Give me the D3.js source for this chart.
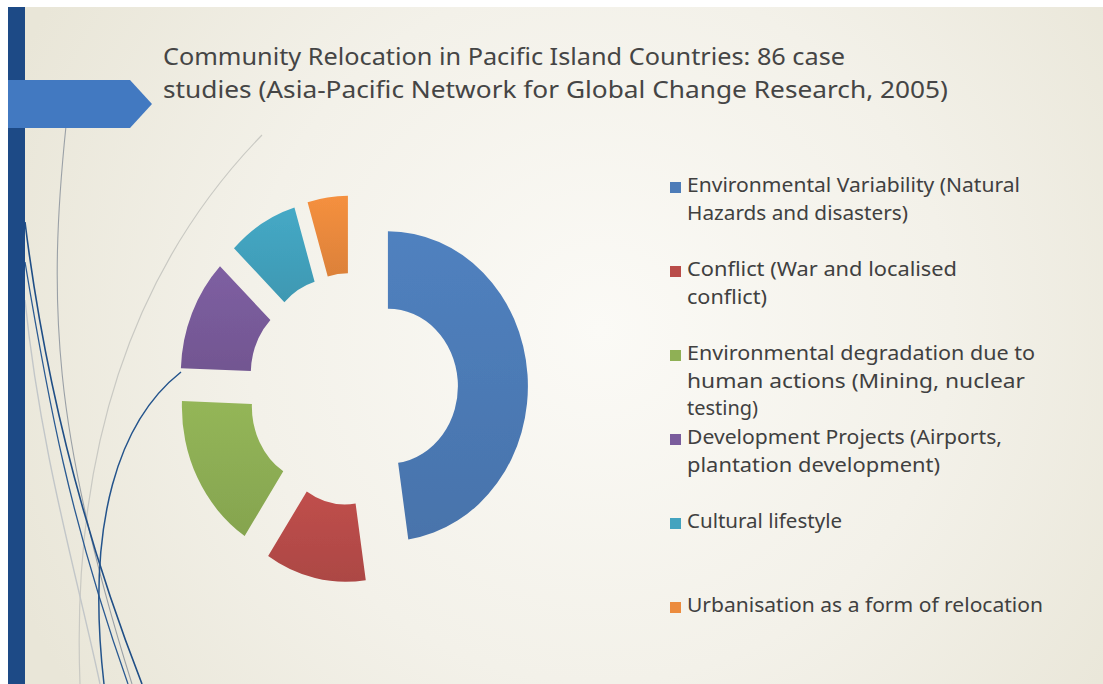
<!DOCTYPE html>
<html>
<head>
<meta charset="utf-8">
<script src="https://cdn.jsdelivr.net/npm/d3@7"></script>
<style>
  html, body { margin: 0; padding: 0; background: #ffffff; }
  svg { display: block; }
</style>
</head>
<body>
<svg id="chart" width="1103" height="684"></svg>
<script>
// ---- data ----
const categories = [
  "Environmental Variability (Natural Hazards and disasters)",
  "Conflict (War and localised conflict)",
  "Environmental degradation due to human actions (Mining, nuclear testing)",
  "Development Projects (Airports, plantation development)",
  "Cultural lifestyle",
  "Urbanisation as a form of relocation"
];
const caseCounts = [41, 10, 14, 10, 7, 4];
const sliceColors = ["#4d7cb8", "#b94c49", "#8fb055", "#7a5c9c", "#43a3bf", "#ec8b3d"];
const legendLines = [
  ["Environmental Variability (Natural", "Hazards and disasters)"],
  ["Conflict (War and localised", "conflict)"],
  ["Environmental degradation due to", "human actions (Mining, nuclear", "testing)"],
  ["Development Projects (Airports,", "plantation development)"],
  ["Cultural lifestyle"],
  ["Urbanisation as a form of relocation"]
];
const legendLineWidths = [[333, 221], [270, 80], [348, 338, 71], [315, 253], [155], [356]];
const titleLines = [
  "Community Relocation in Pacific Island Countries: 86 case",
  "studies (Asia-Pacific Network for Global Change Research, 2005)"
];
const titleLineWidths = [682, 785];

// ---- layout ----
const W = 1103, H = 684;
const slide = { x: 8, y: 7 };
const donut = { cx: 353, cy: 389, outer: 140, inner: 70, explode: 35, stretchY: 1.107 };
const legend = { x: 670, textX: 687, top: 192, bottom: 612, lineH: 27.5, swatch: 11 };
const textColor = "#404040";

const svg = d3.select("#chart");
const defs = svg.append("defs");

// slide background: warm cream with a lighter centre
const bg = defs.append("radialGradient").attr("id", "bgGrad")
  .attr("gradientUnits", "userSpaceOnUse")
  .attr("cx", 600).attr("cy", 330).attr("r", 640);
bg.append("stop").attr("offset", 0).attr("stop-color", "#fbfaf6");
bg.append("stop").attr("offset", 0.55).attr("stop-color", "#f3f1e9");
bg.append("stop").attr("offset", 1).attr("stop-color", "#e9e6d8");

svg.append("rect").attr("x", slide.x).attr("y", slide.y)
  .attr("width", W - slide.x).attr("height", H - slide.y)
  .attr("fill", "url(#bgGrad)");

// ---- theme ornaments on the left ----
const deco = svg.append("g").attr("fill", "none");
const wisps = [
  { d: "M262,135 C150,250 70,420 80,684", stroke: "#c9c9c3", w: 1.2 },
  { d: "M66,126 C48,300 52,430 132,684", stroke: "#9aa0a6", w: 1.1 },
  { d: "M25,300 C40,450 78,580 100,684", stroke: "#c2c6c8", w: 1.4 },
  { d: "M25,222 C42,360 78,520 142,684", stroke: "#1f4e86", w: 1.6 },
  { d: "M25,262 C48,400 70,520 128,684", stroke: "#2a5a92", w: 1.3 },
  { d: "M181,372 C120,420 85,520 104,684", stroke: "#24548c", w: 1.5 }
];
wisps.forEach(p => deco.append("path").attr("d", p.d)
  .attr("stroke", p.stroke).attr("stroke-width", p.w));

// dark vertical bar and the title arrow
svg.append("rect").attr("x", slide.x).attr("y", slide.y)
  .attr("width", 17).attr("height", H - slide.y).attr("fill", "#1d4a86");
svg.append("path")
  .attr("d", "M8,80 L130,80 L152,104 L130,128 L8,128 Z")
  .attr("fill", "#4279c1");

// ---- title ----
const title = svg.append("g")
  .attr("font-family", "'Noto Sans', 'Open Sans', sans-serif")
  .attr("font-size", 24).attr("fill", "#454545");
titleLines.forEach((t, i) => {
  title.append("text").attr("x", 163).attr("y", 65 + i * 33)
    .attr("textLength", titleLineWidths[i]).attr("lengthAdjust", "spacingAndGlyphs")
    .text(t);
});

// ---- exploded doughnut ----
const pie = d3.pie().sort(null).value(d => d);
const arcs = pie(caseCounts);
const arc = d3.arc().innerRadius(donut.inner).outerRadius(donut.outer);

sliceColors.forEach((c, i) => {
  const g = defs.append("linearGradient").attr("id", "slice" + i)
    .attr("x1", 0).attr("y1", 0).attr("x2", 0).attr("y2", 1);
  g.append("stop").attr("offset", 0).attr("stop-color", d3.color(c).brighter(0.1));
  g.append("stop").attr("offset", 1).attr("stop-color", d3.color(c).darker(0.2));
});

const soft = defs.append("filter").attr("id", "soft")
  .attr("x", "-10%").attr("y", "-10%").attr("width", "120%").attr("height", "120%");
soft.append("feGaussianBlur").attr("stdDeviation", 0.6);

const ring = svg.append("g")
  .attr("transform", `translate(${donut.cx},${donut.cy}) scale(1,${donut.stretchY})`);

ring.selectAll("path.slice").data(arcs).join("path")
  .attr("class", "slice")
  .attr("transform", d => {
    const mid = (d.startAngle + d.endAngle) / 2;
    return `translate(${donut.explode * Math.sin(mid)},${-donut.explode * Math.cos(mid)})`;
  })
  .attr("d", arc)
  .attr("fill", (d, i) => `url(#slice${i})`)
  .attr("filter", "url(#soft)");

// ---- legend ----
const ly = d3.scalePoint().domain(categories).range([legend.top, legend.bottom]);
const lg = svg.append("g")
  .attr("font-family", "'Noto Sans', 'Open Sans', sans-serif")
  .attr("font-size", 20).attr("fill", textColor);

categories.forEach((cat, i) => {
  const y0 = ly(cat);
  lg.append("rect").attr("x", legend.x).attr("y", y0 - 10)
    .attr("width", legend.swatch).attr("height", legend.swatch)
    .attr("fill", sliceColors[i]);
  legendLines[i].forEach((line, j) => {
    lg.append("text").attr("x", legend.textX).attr("y", y0 + j * legend.lineH)
      .attr("textLength", legendLineWidths[i][j]).attr("lengthAdjust", "spacingAndGlyphs")
      .text(line);
  });
});
</script>
</body>
</html>
